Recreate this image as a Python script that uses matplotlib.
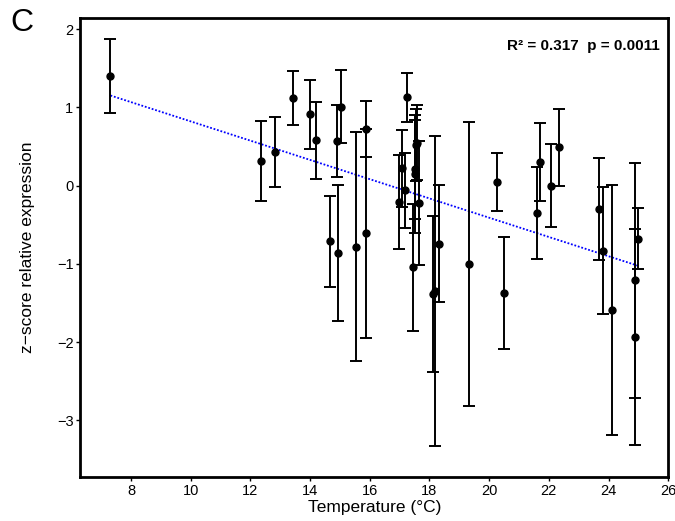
import numpy as np
import matplotlib
matplotlib.use("Agg")
import matplotlib.pyplot as plt

plt.rcParams["font.family"] = ["Liberation Sans", "DejaVu Sans"]

# temperature (deg C), z-score and error bar half-width per sample
temperature = [7.31, 12.37, 12.81, 13.43, 14.01, 14.20, 14.66, 14.89, 14.95, 15.02,
               15.53, 15.86, 15.88, 16.97, 17.09, 17.17, 17.25, 17.44, 17.50, 17.53,
               17.56, 17.59, 17.64, 18.11, 18.17, 18.33, 19.34, 20.25, 20.51, 21.61,
               21.71, 22.07, 22.35, 23.69, 23.80, 24.11, 24.89, 24.89, 25.00]
zscore = [1.40, 0.32, 0.43, 1.12, 0.91, 0.58, -0.71, 0.57, -0.86, 1.01,
          -0.78, -0.61, 0.725, -0.21, 0.22, -0.06, 1.13, -1.045, 0.21, 0.15,
          0.52, 0.55, -0.22, -1.385, -1.35, -0.74, -1.00, 0.05, -1.37, -0.35,
          0.30, 0.00, 0.49, -0.30, -0.83, -1.59, -1.21, -1.94, -0.68]
err = [0.47, 0.51, 0.45, 0.35, 0.44, 0.49, 0.58, 0.46, 0.87, 0.47,
       1.46, 1.34, 0.36, 0.60, 0.49, 0.48, 0.31, 0.81, 0.63, 0.75,
       0.46, 0.48, 0.79, 1.00, 1.98, 0.75, 1.81, 0.37, 0.72, 0.59,
       0.50, 0.53, 0.49, 0.65, 0.81, 1.60, 1.50, 1.38, 0.39]

stats_text = "R\u00b2 = 0.317  p = 0.0011"

x = np.array(temperature)
y = np.array(zscore)

fig = plt.figure(figsize=(6.75, 5.21), dpi=100)
ax = fig.add_axes([0.119, 0.085, 0.871, 0.88])

ax.errorbar(x, y, yerr=err, fmt="o", color="black", ms=5, elinewidth=1.4,
            capsize=4.5, capthick=1.4, zorder=3)

# least squares fit over the data range
slope, intercept = np.polyfit(x, y, 1)
xs = np.array([x.min(), x.max()])
ax.plot(xs, intercept + slope * xs, ls=(0, (1, 1)), color="#0000FF", lw=1.3, zorder=2)

ax.set_xlim(6.3, 26.0)
ax.set_ylim(-3.72, 2.14)
ax.set_xticks(np.arange(8, 27, 2))
ax.set_yticks(np.arange(-3, 3, 1))
ax.tick_params(direction="out", length=3, width=1, labelsize=10.5, pad=2)
for spine in ax.spines.values():
    spine.set_linewidth(2)

ax.set_xlabel("Temperature (\u00b0C)", fontsize=12.5, labelpad=2)
ax.set_ylabel("z\u2212score relative expression", fontsize=12.5, labelpad=16)

ax.text(0.985, 0.955, stats_text, transform=ax.transAxes, ha="right", va="top",
        fontsize=11, fontweight="bold")
fig.text(0.015, 0.985, "C", ha="left", va="top", fontsize=23)

fig.savefig("out.png", dpi=100)
